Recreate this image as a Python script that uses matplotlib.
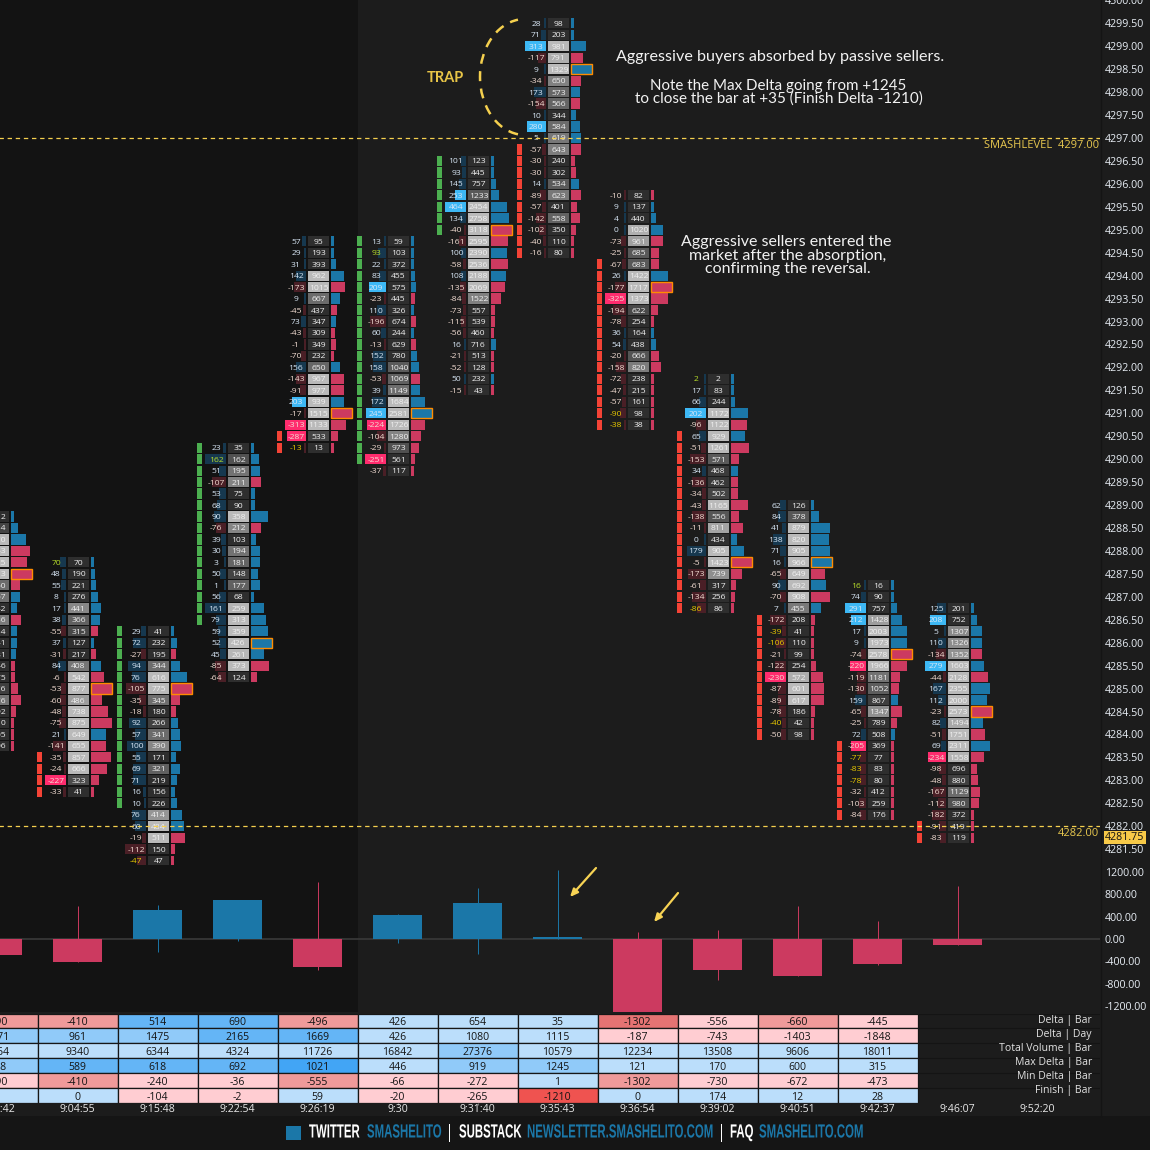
import numpy as np
import matplotlib
matplotlib.use("Agg")
import matplotlib.pyplot as plt
from matplotlib.patches import Rectangle, Arc
from matplotlib.patheffects import AbstractPathEffect
from matplotlib.transforms import Affine2D

# ---------- DATA ----------
TIMES = ["9:01:42", "9:04:55", "9:15:48", "9:22:54", "9:26:19", "9:30", "9:31:40",
         "9:35:43", "9:36:54", "9:39:02", "9:40:51", "9:42:37", "9:46:07", "9:52:20"]

TOP_PRICE = [4288.75, 4287.75, 4286.25, 4290.25, 4294.75, 4294.75, 4296.5, 4299.5,
             4295.75, 4291.75, 4289.0, 4287.25, 4286.75]

DELTA_A = [5, 8, 20, -40, -35, -60, -20, 15, 12, -18, 14, 12, 9, -10, -8, -14, -20, -9, -6, -5, -6]
VOL_A = [112, 284, 570, 743, 625, 813, 360, 367, 242, 386, 254, 241, 181, 146, 175, 276, 376, 192, 110, 105, 106]
DELTA_B = [70, 48, 55, 8, 17, 38, -55, 37, -31, 84, -6, -53, -60, -48, -75, 21, -141, -35, -24, -227, -33]
VOL_B = [70, 190, 221, 276, 441, 366, 315, 127, 217, 408, 542, 877, 486, 738, 875, 649, 655, 857, 666, 323, 41]
DELTA_C = [29, 72, -27, 94, 76, -105, -35, -18, 92, 57, 100, 55, 69, 71, 16, 10, 76, 60, -19, -112, -47]
VOL_C = [41, 232, 195, 344, 616, 775, 345, 180, 266, 341, 390, 171, 321, 219, 156, 226, 414, 484, 511, 150, 47]
DELTA_D = [23, 162, 51, -107, 53, 68, 90, -76, 39, 30, 3, 50, 1, 56, 161, 79, 59, 52, 45, -85, -64]
VOL_D = [35, 162, 195, 211, 75, 90, 358, 212, 103, 194, 181, 148, 177, 68, 259, 313, 359, 426, 261, 373, 124]
DELTA_E = [57, 29, 31, 142, -173, 9, -45, 73, -43, -1, -70, 156, -143, -91, 203, -17, -313, -287, -13]
VOL_E = [95, 193, 393, 962, 1015, 667, 437, 347, 309, 349, 232, 650, 967, 977, 939, 1515, 1133, 533, 13]
DELTA_F = [13, 93, 22, 83, 209, -23, 110, -196, 60, -13, 152, 158, -53, 39, 172, 245, -224, -104, -29, -251, -37]
VOL_F = [59, 103, 372, 455, 575, 445, 326, 674, 244, 629, 780, 1040, 1069, 1149, 1684, 2581, 1726, 1280, 973, 561, 117]
DELTA_G = [101, 93, 145, 253, 464, 134, -40, -161, 100, -58, 108, -135, -84, -73, -115, -56, 16, -21, -52, 50, -15]
VOL_G = [123, 445, 757, 1233, 2454, 2758, 3118, 2595, 2390, 2536, 2188, 2069, 1522, 557, 539, 460, 716, 513, 128, 232, 43]
DELTA_H = [28, 71, 313, -117, 9, -34, 173, -154, 10, 280, 5, -57, -30, -30, 14, -89, -57, -142, -102, -40, -16]
VOL_H = [98, 203, 981, 791, 1329, 650, 573, 566, 344, 584, 619, 643, 240, 302, 534, 623, 401, 558, 350, 110, 80]
DELTA_I = [-10, 9, 4, 0, -73, -25, -67, 26, -177, -325, -194, -78, 36, 54, -20, -158, -72, -47, -57, -90, -38]
VOL_I = [82, 137, 440, 1020, 961, 685, 683, 1422, 1717, 1373, 622, 254, 164, 438, 666, 820, 238, 215, 161, 98, 38]
DELTA_J = [2, 17, 66, 202, -96, 65, -51, -153, 34, -136, -34, -43, -138, -11, 0, 179, -5, -173, -61, -134, -86]
VOL_J = [2, 83, 244, 1172, 1122, 929, 1261, 571, 468, 462, 502, 1165, 556, 811, 434, 905, 1423, 739, 317, 256, 86]
DELTA_K = [62, 84, 41, 138, 71, 16, -65, 90, -70, 7, -172, -39, -106, -21, -122, -230, -87, -89, -78, -40, -50]
VOL_K = [126, 378, 879, 820, 905, 966, 649, 692, 908, 455, 208, 41, 110, 99, 254, 572, 601, 617, 186, 42, 98]
DELTA_L = [16, 74, 291, 212, 17, 9, -74, -220, -119, -130, 159, -65, -25, 72, -205, -77, -83, -78, -32, -103, -84]
VOL_L = [16, 90, 757, 1428, 2003, 1973, 2578, 1966, 1181, 1052, 867, 1347, 789, 508, 369, 77, 83, 80, 412, 259, 176]
DELTA_M = [125, 208, 5, 110, -134, 279, -44, 167, 112, -23, 82, -51, 69, -234, -98, -48, -167, -112, -182, -91, -83]
VOL_M = [201, 752, 1307, 1326, 1352, 1603, 2128, 2355, 2000, 2573, 1494, 1751, 2311, 1558, 696, 880, 1129, 980, 372, 419, 119]

DELTAS = [DELTA_A, DELTA_B, DELTA_C, DELTA_D, DELTA_E, DELTA_F, DELTA_G, DELTA_H, DELTA_I, DELTA_J, DELTA_K, DELTA_L, DELTA_M]
VOLUMES = [VOL_A, VOL_B, VOL_C, VOL_D, VOL_E, VOL_F, VOL_G, VOL_H, VOL_I, VOL_J, VOL_K, VOL_L, VOL_M]

# rows of each bar that carry the side strip: first row, row count, direction
STRIP_FIRST = [0, 17, 0, 0, 17, 0, 0, 11, 6, 5, 10, 14, 19]
STRIP_COUNT = [0, 4, 16, 16, 2, 20, 7, 10, 15, 16, 11, 7, 2]
STRIP_UP = [False, False, True, True, False, True, True, False, False, False, False, False, False]

DELTA_BAR = [-290, -410, 514, 690, -496, 426, 654, 35, -1302, -556, -660, -445, -110]
DELTA_DAY = [1371, 961, 1475, 2165, 1669, 426, 1080, 1115, -187, -743, -1403, -1848]
TOTAL_VOL = [8264, 9340, 6344, 4324, 11726, 16842, 27376, 10579, 12234, 13508, 9606, 18011]
MAX_DELTA = [348, 589, 618, 692, 1021, 446, 919, 1245, 121, 170, 600, 315, 950]
MIN_DELTA = [-290, -410, -240, -36, -555, -66, -272, 1, -1302, -730, -672, -473, -110]
FINISH = [0, 0, -104, -2, 59, -20, -265, -1210, 0, 174, 12, 28]
ROW_NAMES = ["Delta | Bar", "Delta | Day", "Total Volume | Bar", "Max Delta | Bar", "Min Delta | Bar", "Finish | Bar"]
SMASH_LEVELS = [4297.0, 4282.0]
LAST_PRICE = 4281.75

# ---------- STYLE / LAYOUT ----------
BG, BG_DARK, FOOT = "#1c1c1c", "#131313", "#151515"
BLUE, PINK = "#1b77a8", "#cc3a60"
DK_BLUE, DK_RED = "#16384f", "#4a1f26"
HI_BLUE, HI_PINK = "#3db8f5", "#ff2c6e"
GREEN, RED = "#4caf50", "#f44336"
YEL = "#f5d04e"
FONT = "Open Sans"
plt.rcParams["font.family"] = [FONT, "DejaVu Sans"]

S = {"l": "#bbdefb", "m": "#90caf9", "h": "#64b5f6", "x": "#42a5f5",
     "p": "#ffcdd2", "q": "#ef9a9a", "r": "#e57373", "t": "#ef5350"}
SHADES = ["qqhhqlllrpqp", "mmmhhlllpppp", "llllllmlllll",
          "mhhhxlmmllll", "pqppqpplqppp", "llpplpptllll"]

W = H = 1150
fig = plt.figure(figsize=(11.5, 11.5), dpi=100, facecolor=BG)
X_L, X_R = -42.5, 1100.0
UNIT = 80.0


class Squeeze(AbstractPathEffect):
    """Narrow a text's glyphs horizontally; the artist stays a real text."""

    def __init__(self, sx):
        super().__init__()
        self.sx = sx

    def draw_path(self, renderer, gc, tpath, affine, rgbFace=None):
        renderer.draw_path(gc, tpath, Affine2D().scale(self.sx, 1) + affine, rgbFace)


def axes_px(x0, y0, x1, y1, **kw):
    return fig.add_axes([x0 / W, 1 - y1 / H, (x1 - x0) / W, (y1 - y0) / H], **kw)


def xpx(offset):
    return offset / UNIT


bgax = axes_px(0, 0, W, H, zorder=0)
bgax.set_xlim(0, W)
bgax.set_ylim(H, 0)
bgax.axis("off")
bgax.add_patch(Rectangle((0, 0), 358, 1012, fc=BG_DARK, ec="none"))
bgax.add_patch(Rectangle((0, 1116), W, 34, fc=FOOT, ec="none"))
bgax.plot([1100.5, 1100.5], [0, 1116], color="#141414", lw=1)

# ---------- FOOTPRINT PANE ----------
PX_PER_POINT = 45.88
P_TOP = 4297 + 138 / PX_PER_POINT
P_BOT = 4297 - (865 - 138) / PX_PER_POINT
XLIM = ((X_L - 77.5) / UNIT, (X_R - 77.5) / UNIT)
ax = axes_px(X_L, 0, X_R, 865, zorder=2)
ax.patch.set_alpha(0)
ax.set_xlim(*XLIM)
ax.set_ylim(P_BOT, P_TOP)
ROW = 0.25
H_CELL = 0.222

for i, (top, dlt, vol) in enumerate(zip(TOP_PRICE, DELTAS, VOLUMES)):
    c = i - 1
    n = len(dlt)
    y = top - ROW * np.arange(n)
    d = np.array(dlt, float)
    v = np.array(vol, float)
    dmax, vmax = np.abs(d).max(), v.max()
    # strip
    if STRIP_COUNT[i]:
        k = np.arange(STRIP_FIRST[i], STRIP_FIRST[i] + STRIP_COUNT[i])
        ax.bar(np.full(len(k), c + xpx(-38)), np.full(len(k), H_CELL), width=xpx(5),
               bottom=y[k] - H_CELL / 2, color=GREEN if STRIP_UP[i] else RED, lw=0)
    # delta cells
    wd = np.maximum(np.abs(d) / dmax * 21, 2.5)
    cols = [(HI_BLUE if a >= 200 else DK_BLUE) if a >= 0 else (HI_PINK if a <= -200 else DK_RED) for a in d]
    ax.barh(y, -xpx(wd), left=c + xpx(-11.5), height=H_CELL, color=cols, lw=0)
    # volume cells
    r = np.clip((v / vmax - 0.30) / 0.32, 0, 1)
    g = 0.18 + 0.55 * r
    ax.barh(y, xpx(21), left=c + xpx(-9.5), height=H_CELL, color=[(t, t, t) for t in g], lw=0)
    # profile
    wp = np.maximum(v / vmax * 20.7, 2.8)
    ax.barh(y, xpx(wp), left=c + xpx(13.5), height=H_CELL, color=[BLUE if a >= 0 else PINK for a in d], lw=0)
    p = int(np.argmax(v))
    ax.add_patch(Rectangle((c + xpx(13.5), y[p] - H_CELL / 2), xpx(20.7), H_CELL, fc="none", ec="#ff8c00", lw=1, zorder=3))
    for yy, a, b in zip(y, dlt, vol):
        if abs(a) / max(b, 1) >= 0.9:
            tc = "#b9e02a" if a >= 0 else "#e8c800"
        else:
            tc = "#d7e6f5" if a >= 0 else "#f2dcd2"
        if c >= 0:  # the delta column of the first, cropped bar lies outside the picture
            ax.text(c + xpx(-21.5), yy, str(a), color=tc, fontsize=6.1, ha="center", va="center_baseline", zorder=4)
        ax.text(c + xpx(1), yy, str(b), color="#f0f0f0", fontsize=6.1, ha="center", va="center_baseline", zorder=4)

for lv in SMASH_LEVELS:
    ax.axhline(lv, color=YEL, lw=0.9, ls=(0, (3.5, 3)), zorder=5)
ax.text(XLIM[1] - xpx(1), SMASH_LEVELS[0] - 0.16, "SMASHLEVEL  %.2f" % SMASH_LEVELS[0], color="#e8c84f",
        fontsize=8.0, ha="right", va="center", zorder=6)
ax.text(XLIM[1] - xpx(1), SMASH_LEVELS[1] - 0.17, "%.2f" % SMASH_LEVELS[1], color="#e8c84f",
        fontsize=8.0, ha="right", va="center", zorder=6)

ax.yaxis.tick_right()
ax.set_yticks(np.arange(4281.5, 4300.5, 0.5))
ax.set_yticklabels(["%.2f" % t for t in np.arange(4281.5, 4300.5, 0.5)])
ax.tick_params(axis="y", length=0, pad=3.5, labelsize=7.7, labelcolor="#e8eef5")
ax.set_xticks([])
for s in ax.spines.values():
    s.set_visible(False)
ax.text(1.0 + 5 / (X_R - X_L), LAST_PRICE, "%.2f" % LAST_PRICE, transform=ax.get_yaxis_transform(),
        color="#111111", fontsize=7.7, ha="left", va="center", zorder=7, clip_on=False,
        bbox=dict(boxstyle="square,pad=0.12", fc="#f7c948", ec="none"))

# ---------- DELTA PANE ----------
PX_PER_UNIT = 0.0558
hx = axes_px(X_L, 865, X_R, 1012, zorder=2)
hx.patch.set_alpha(0)
hx.set_xlim(*XLIM)
hx.set_ylim((939 - 1012) / PX_PER_UNIT, (939 - 865) / PX_PER_UNIT)
hx.axhline(0, color="#3a3a3a", lw=1.2, zorder=1)
x_all = np.arange(len(DELTA_BAR)) - 1
colors = [BLUE if a >= 0 else PINK for a in DELTA_BAR]
hx.vlines(x_all, MIN_DELTA, MAX_DELTA, colors=colors, lw=0.7, zorder=2)
hx.bar(x_all, DELTA_BAR, width=49 / UNIT, color=colors, lw=0, zorder=3)
hx.yaxis.tick_right()
hx.set_yticks([1200, 800, 400, 0, -400, -800, -1200])
hx.set_yticklabels(["%.2f" % t for t in [1200, 800, 400, 0, -400, -800, -1200]])
hx.tick_params(axis="y", length=0, pad=3.5, labelsize=7.7, labelcolor="#e8eef5")
hx.set_xticks([])
for s in hx.spines.values():
    s.set_visible(False)

# ---------- TABLE ----------
tx = axes_px(X_L, 1013.5, X_R, 1103, zorder=2)
tx.patch.set_alpha(0)
tx.set_xlim(*XLIM)
tx.set_ylim(6, 0)
ROWS = [DELTA_BAR[:12], DELTA_DAY, TOTAL_VOL, MAX_DELTA[:12], MIN_DELTA[:12], FINISH]
for r_i, (vals, shade) in enumerate(zip(ROWS, SHADES)):
    tx.barh(np.full(12, r_i + 0.5), np.ones(12), left=np.arange(12) - 1.5, height=1,
            color=[S[k] for k in shade], edgecolor="#161616", lw=0.9)
    for c_i, val in enumerate(vals):
        if c_i > 0 or r_i != 5:  # the cropped first cell of the last row shows no digits
            tx.text(c_i - 1, r_i + 0.52, str(val), color="#141414", fontsize=7.6, ha="center", va="center_baseline")
    tx.axhline(r_i, color="#141414", lw=0.8, zorder=0)
tx.set_xticks(np.arange(len(TIMES)) - 1)
tx.set_xticklabels(TIMES)
tx.tick_params(axis="x", length=1.5, width=0.8, color="#777777", pad=-0.5, labelsize=7.6, labelcolor="#e8e8e8")
tx.set_yticks([])
for s in tx.spines.values():
    s.set_visible(False)

# ---------- OVERLAY (annotations and footer, in pixel space) ----------
ov = axes_px(0, 0, W, H, zorder=5)
ov.set_xlim(0, W)
ov.set_ylim(H, 0)
ov.axis("off")
for name, yy in zip(ROW_NAMES, 1021 + 14 * np.arange(6)):
    ov.text(1092, yy, name, color="#e2e2e2", fontsize=7.6, ha="right", va="center")

NOTE = "Lato"
for txt, cx, cy, fs in [("Aggressive buyers absorbed by passive sellers.", 780, 57, 11.6),
                        ("Note the Max Delta going from +1245", 778, 86, 10.9),
                        ("to close the bar at +35 (Finish Delta -1210)", 779, 99, 11.0),
                        ("Aggressive sellers entered the", 786, 242, 11.5),
                        ("market after the absorption,", 788, 256, 11.5),
                        ("confirming the reversal.", 788, 269, 11.5)]:
    ov.text(cx, cy, txt, color="#f2f2f2", fontsize=fs, family=NOTE, ha="center", va="center")
ov.text(445, 78, "TRAP", color="#e8c547", fontsize=10.5, family=NOTE, weight="bold", ha="center", va="center")
ov.add_patch(Arc((525, 77), 90, 116, theta1=97, theta2=263, color=YEL, lw=1.8, ls=(0, (4, 3))))
for tail, tip in [((596, 868), (570, 897)), ((678, 893), (654, 922))]:
    ov.annotate("", xy=tip, xytext=tail,
                arrowprops=dict(arrowstyle="-|>,head_length=0.45,head_width=0.2", color="#f7d354", lw=1.6,
                                shrinkA=0, shrinkB=0))

ov.add_patch(Rectangle((286, 1126), 15, 14, fc=BLUE, ec="none"))
for txt, x0, col in [("TWITTER", 309, "white"), ("SMASHELITO", 367, BLUE), ("|", 448, "white"),
                     ("SUBSTACK", 459, "white"), ("NEWSLETTER.SMASHELITO.COM", 527, BLUE), ("|", 720, "white"),
                     ("FAQ", 730, "white"), ("SMASHELITO.COM", 759, BLUE)]:
    t = ov.text(x0, 1133, txt, color=col, fontsize=13.7, family="Liberation Sans", weight="bold",
                ha="left", va="center")
    t.set_path_effects([Squeeze(0.6)])

fig.savefig("out.png", dpi=100, facecolor=BG)
